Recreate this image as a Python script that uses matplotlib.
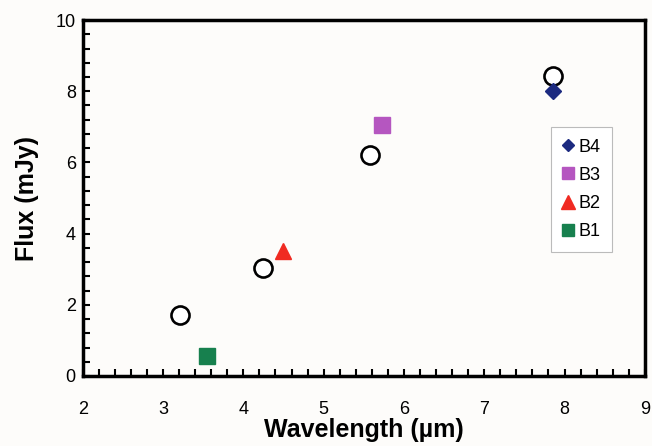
import matplotlib
matplotlib.use("Agg")
import matplotlib.pyplot as plt
from matplotlib.ticker import MultipleLocator

plt.rcParams['font.family'] = ['Liberation Sans', 'DejaVu Sans']

# Data
circle_x = [3.21, 4.25, 5.58, 7.86]
circle_y = [1.72, 3.02, 6.22, 8.42]

bands = ["B4", "B3", "B2", "B1"]
band_x = [7.86, 5.73, 4.49, 3.55]
band_y = [8.02, 7.05, 3.50, 0.55]
band_markers = ["D", "s", "^", "s"]
band_colors = ["#1c2a80", "#b556c0", "#f02a22", "#17804e"]
band_sizes = [8, 11.5, 12, 11.5]

fig = plt.figure(figsize=(6.52, 4.46), dpi=100, facecolor="#fdfcfa")
ax = fig.add_axes([0.127, 0.157, 0.862, 0.798])
ax.set_facecolor("#fdfcfa")

ax.plot(circle_x, circle_y, linestyle="none", marker="o", markersize=13,
        markerfacecolor="white", markeredgecolor="black", markeredgewidth=1.9, zorder=3)

for lab, x, y, m, c, s in zip(bands, band_x, band_y, band_markers, band_colors, band_sizes):
    ax.plot([x], [y], linestyle="none", marker=m, markersize=s, color=c,
            markeredgecolor=c, label=lab, zorder=4)

ax.set_xlim(2, 9)
ax.set_ylim(0, 10)
ax.xaxis.set_major_locator(MultipleLocator(1))
ax.xaxis.set_minor_locator(MultipleLocator(0.2))
ax.yaxis.set_major_locator(MultipleLocator(2))
ax.yaxis.set_minor_locator(MultipleLocator(0.4))
ax.tick_params(which="both", direction="in", top=False, right=False, width=1.5,
               labelsize=13, colors="black")
ax.tick_params(which="major", length=5)
ax.tick_params(which="minor", length=5)
ax.tick_params(axis="x", which="major", pad=18)
ax.tick_params(axis="y", which="major", pad=5)
for sp in ax.spines.values():
    sp.set_linewidth(2.5)

ax.set_xlabel("Wavelength (µm)", fontsize=18, fontweight="bold", labelpad=0)
ax.set_ylabel("Flux (mJy)", fontsize=18, fontweight="bold", labelpad=12)

leg = ax.legend(loc="upper right", bbox_to_anchor=(0.942, 0.700), borderaxespad=0,
                fontsize=13, handlelength=0.6, handletextpad=0.3, labelspacing=0.62,
                borderpad=0.65, fancybox=False, framealpha=1,
                edgecolor="#bbbbbb", markerscale=0.8)
leg.get_frame().set_linewidth(0.8)

fig.savefig("out.png", dpi=100, facecolor=fig.get_facecolor())
